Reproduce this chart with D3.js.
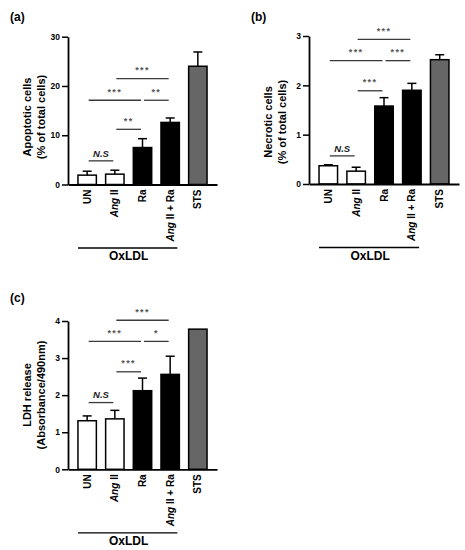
<!DOCTYPE html>
<html>
<head>
<meta charset="utf-8">
<script src="https://cdn.jsdelivr.net/npm/d3@7"></script>
<style>
  body { margin: 0; background: #fff; }
  svg { font-family: "Liberation Sans", Arial, sans-serif; }
</style>
</head>
<body>
<div id="chart"></div>
<script>
// groups on the x axis
const categories = ['UN', 'Ang II', 'Ra', 'Ang II + Ra', 'STS'];

// (a) apoptotic cells, % of total
const apoptoticMean = [1.9, 2.1, 7.5, 12.6, 24.0];
const apoptoticErr = [0.8, 0.8, 1.8, 0.9, 2.9];
const apoptoticTicks = [0, 10, 20, 30];

// (b) necrotic cells, % of total
const necroticMean = [0.37, 0.26, 1.58, 1.90, 2.52];
const necroticErr = [0.02, 0.08, 0.17, 0.14, 0.10];
const necroticTicks = [0, 1, 2, 3];

// (c) LDH release, absorbance at 490nm
const ldhMean = [1.31, 1.36, 2.12, 2.56, 3.78];
const ldhErr = [0.13, 0.23, 0.34, 0.49, 0];
const ldhTicks = [0, 1, 2, 3, 4];

// significance brackets: [from, to, height in data units, label]
const apoptoticSig = [[0, 1, 4.8, 'N.S'], [1, 2, 11.2, '**'], [0, 2, 17.1, '***'], [2, 3, 17.1, '**'], [1, 3, 21.5, '***']];
const necroticSig = [[0, 1, 0.57, 'N.S'], [1, 2, 1.89, '***'], [0, 2, 2.50, '***'], [2, 3, 2.50, '***'], [1, 3, 2.93, '***']];
const ldhSig = [[0, 1, 1.80, 'N.S'], [1, 2, 2.63, '***'], [0, 2, 3.45, '***'], [2, 3, 3.45, '*'], [1, 3, 4.02, '***']];

const fills = ['#fff', '#fff', '#000', '#000', '#666'];

const svg = d3.select('#chart').append('svg')
  .attr('width', 465)
  .attr('height', 550);

const panels = [
  { tag: '(a)', tagX: 10, tagY: 21, left: 68, right: 217, top: 36.7, bottom: 184.5,
    max: 30, ticks: apoptoticTicks, mean: apoptoticMean, err: apoptoticErr, sig: apoptoticSig,
    title: ['Apoptotic cells', '(% of total cells)'], titleY: 117 },
  { tag: '(b)', tagX: 251, tagY: 21, left: 309, right: 459, top: 36, bottom: 184,
    max: 3, ticks: necroticTicks, mean: necroticMean, err: necroticErr, sig: necroticSig,
    title: ['Necrotic cells', '(% of total cells)'], titleY: 122 },
  { tag: '(c)', tagX: 10, tagY: 302, left: 68, right: 217, top: 321, bottom: 469.3,
    max: 4, ticks: ldhTicks, mean: ldhMean, err: ldhErr, sig: ldhSig,
    title: ['LDH release', '(Absorbance/490nm)'], titleY: 395 }
];

panels.forEach(drawPanel);

function drawPanel(p) {
  const g = svg.append('g');

  const x = d3.scaleBand()
    .domain(categories)
    .range([p.left, p.right])
    .paddingInner(0.335)
    .paddingOuter(0.36);

  const y = d3.scaleLinear()
    .domain([0, p.max])
    .range([p.bottom, p.top]);

  const bw = x.bandwidth();
  const cx = c => x(categories[c]) + bw / 2;

  // panel letter
  g.append('text')
    .attr('x', p.tagX).attr('y', p.tagY)
    .attr('font-size', 12).attr('font-weight', 'bold')
    .text(p.tag);

  // bars
  const rows = categories.map((c, i) => ({ name: c, mean: p.mean[i], err: p.err[i], fill: fills[i] }));

  g.selectAll('rect.bar')
    .data(rows)
    .join('rect')
    .attr('class', 'bar')
    .attr('x', d => x(d.name))
    .attr('y', d => y(d.mean))
    .attr('width', bw)
    .attr('height', d => y(0) - y(d.mean))
    .attr('fill', d => d.fill)
    .attr('stroke', '#000')
    .attr('stroke-width', 1.5);

  // error bars, upper half only
  const eb = g.selectAll('g.err')
    .data(rows.filter(d => d.err > 0))
    .join('g')
    .attr('class', 'err')
    .attr('stroke', '#000')
    .attr('stroke-width', 1.5);
  eb.append('line')
    .attr('x1', d => x(d.name) + bw / 2).attr('x2', d => x(d.name) + bw / 2)
    .attr('y1', d => y(d.mean)).attr('y2', d => y(d.mean + d.err));
  eb.append('line')
    .attr('x1', d => x(d.name) + bw / 2 - 4.5).attr('x2', d => x(d.name) + bw / 2 + 4.5)
    .attr('y1', d => y(d.mean + d.err)).attr('y2', d => y(d.mean + d.err));

  // y axis
  const yAxis = g.append('g')
    .attr('transform', `translate(${p.left},0)`)
    .call(d3.axisLeft(y).tickValues(p.ticks).tickFormat(d3.format('d'))
      .tickSize(6).tickSizeOuter(0).tickPadding(2));
  yAxis.select('.domain').attr('stroke-width', 1.8);
  yAxis.selectAll('.tick line').attr('stroke-width', 1.5);
  yAxis.selectAll('.tick text')
    .attr('font-size', 8.5).attr('font-weight', 'bold').attr('fill', '#000')
    .attr('font-family', 'Liberation Sans, Arial, sans-serif');

  // x axis
  const xAxis = g.append('g')
    .attr('transform', `translate(0,${p.bottom})`)
    .call(d3.axisBottom(x).tickSize(0).tickSizeOuter(0));
  xAxis.select('.domain').attr('stroke-width', 1.8);
  const labels = xAxis.selectAll('.tick text')
    .attr('transform', 'rotate(-90)')
    .attr('text-anchor', 'end')
    .attr('x', -5)
    .attr('y', 0)
    .attr('dy', '0.35em')
    .attr('font-size', 10).attr('font-weight', 'bold').attr('fill', '#000')
    .attr('font-family', 'Liberation Sans, Arial, sans-serif');
  // "Ang" is set in italics
  labels.filter(d => d.startsWith('Ang'))
    .text('')
    .each(function(d) {
      const t = d3.select(this);
      t.append('tspan').attr('font-style', 'italic').text('Ang');
      t.append('tspan').text(d.slice(3));
    });

  // y title
  const tx = p.left - 41;
  const title = g.append('text')
    .attr('transform', `translate(${tx},${p.titleY}) rotate(-90)`)
    .attr('text-anchor', 'middle')
    .attr('font-size', 11).attr('font-weight', 'bold');
  title.append('tspan').attr('x', 0).attr('dy', '0.35em').text(p.title[0]);
  title.append('tspan').attr('x', 0).attr('dy', '1.3em').text(p.title[1]);

  // OxLDL group line
  const ly = p.bottom + 63.5;
  g.append('line')
    .attr('x1', x(categories[0])).attr('x2', x(categories[3]) + bw - 2)
    .attr('y1', ly).attr('y2', ly)
    .attr('stroke', '#000').attr('stroke-width', 1.3);
  g.append('text')
    .attr('x', (x(categories[0]) + x(categories[3]) + bw) / 2)
    .attr('y', ly + 12)
    .attr('text-anchor', 'middle')
    .attr('font-size', 12).attr('font-weight', 'bold')
    .text('OxLDL');

  // significance brackets
  const sig = g.selectAll('g.sig')
    .data(p.sig)
    .join('g')
    .attr('class', 'sig');
  sig.append('line')
    .attr('x1', d => cx(d[0]) + 1.5).attr('x2', d => cx(d[1]) - 1.5)
    .attr('y1', d => y(d[2])).attr('y2', d => y(d[2]))
    .attr('stroke', '#3a3a3a').attr('stroke-width', 1.3);
  sig.append('text')
    .attr('x', d => (cx(d[0]) + cx(d[1])) / 2)
    .attr('y', d => y(d[2]) - (d[3] === 'N.S' ? 4.3 : 5.5))
    .attr('text-anchor', 'middle')
    .attr('font-size', d => d[3] === 'N.S' ? 9.5 : 9)
    .attr('font-weight', 'bold')
    .attr('font-style', d => d[3] === 'N.S' ? 'italic' : 'normal')
    .attr('letter-spacing', d => d[3] === 'N.S' ? 0 : 1.4)
    .attr('fill', d => d[3] === 'N.S' ? '#222' : '#555')
    .text(d => d[3]);
}
</script>
</body>
</html>
